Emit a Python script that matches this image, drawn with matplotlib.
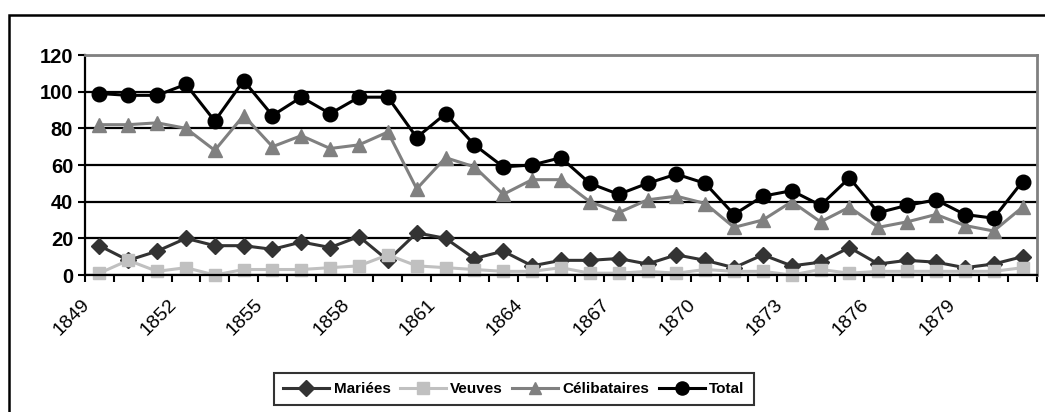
import matplotlib.pyplot as plt
from matplotlib.patches import Rectangle
from matplotlib.transforms import ScaledTranslation

plt.rcParams['font.family'] = ['Liberation Sans', 'DejaVu Sans']

annees = list(range(1849, 1882))
mariees = [16, 8, 13, 20, 16, 16, 14, 18, 15, 21, 8, 23, 20, 9, 13, 5, 8, 8, 9, 6, 11, 8,
           4, 11, 5, 7, 15, 6, 8, 7, 4, 6, 10]
veuves = [1, 8, 2, 4, 0, 3, 3, 3, 4, 5, 11, 5, 4, 3, 2, 2, 4, 1, 1, 2, 1, 3,
          2, 2, 0, 3, 1, 2, 2, 2, 2, 2, 4]
celibataires = [82, 82, 83, 80, 68, 87, 70, 76, 69, 71, 78, 47, 64, 59, 44, 52, 52, 40, 34, 41, 43, 39,
                26, 30, 40, 29, 37, 26, 29, 33, 27, 24, 37]
total = [99, 98, 98, 104, 84, 106, 87, 97, 88, 97, 97, 75, 88, 71, 59, 60, 64, 50, 44, 50, 55, 50,
         33, 43, 46, 38, 53, 34, 38, 41, 33, 31, 51]

series = [
    ('Mariées', mariees, '#333333', 'D', 8.5),
    ('Veuves', veuves, '#c0c0c0', 's', 9),
    ('Célibataires', celibataires, '#808080', '^', 10),
    ('Total', total, '#000000', 'o', 10.5),
]

fig = plt.figure(figsize=(10.45, 4.12), dpi=100)
ax = fig.add_axes([0.0813, 0.3325, 0.9110, 0.534])

x = list(range(len(annees)))
for nom, vals, couleur, marq, ms in series:
    ax.plot(x, vals, color=couleur, marker=marq, markersize=ms, linewidth=2.2,
            markerfacecolor=couleur, markeredgecolor=couleur, label=nom, clip_on=False)

ax.set_xlim(-0.5, len(annees) - 0.5)
ax.set_ylim(0, 120)
ax.set_yticks(range(0, 121, 20))
ax.yaxis.grid(True, color='black', linewidth=1.6)
ax.set_axisbelow(True)

# etiquettes tous les 3 ans, traits entre les categories
ax.set_xticks(x[::3])
ax.set_xticklabels([str(a) for a in annees[::3]], rotation=45, ha='right', fontsize=14)
ax.set_xticks([i - 0.5 for i in range(len(annees) + 1)], minor=True)
ax.tick_params(axis='x', which='major', length=0, pad=15)
ax.tick_params(axis='x', which='minor', length=5, width=1.5, direction='out')
ax.tick_params(axis='y', length=5, width=1.5, direction='out', labelsize=14.5)
for lab in ax.get_yticklabels():
    lab.set_fontweight('bold')
decal = ScaledTranslation(-6 / 100, 0, fig.dpi_scale_trans)
for lab in ax.get_xticklabels():
    lab.set_transform(lab.get_transform() + decal)

ax.spines['left'].set_linewidth(1.6)
ax.spines['bottom'].set_linewidth(1.6)
ax.spines['top'].set_color('#808080')
ax.spines['right'].set_color('#808080')
ax.spines['top'].set_linewidth(2)
ax.spines['right'].set_linewidth(2)

leg = fig.legend(loc='center', bbox_to_anchor=(514 / 1045, 1 - 389 / 412), ncol=4,
                 prop={'weight': 'bold', 'size': 11}, frameon=True, fancybox=False,
                 handlelength=3.0, columnspacing=0.6, handletextpad=0.3,
                 borderpad=0.6, markerscale=0.9)
leg.get_frame().set_edgecolor('black')
leg.get_frame().set_linewidth(1.5)

fig.patches.append(Rectangle((9 / 1045, -0.1), 1.2, 1.1 - 15 / 412, transform=fig.transFigure,
                             fill=False, edgecolor='black', linewidth=1.8))

fig.savefig('out.png', dpi=100)
